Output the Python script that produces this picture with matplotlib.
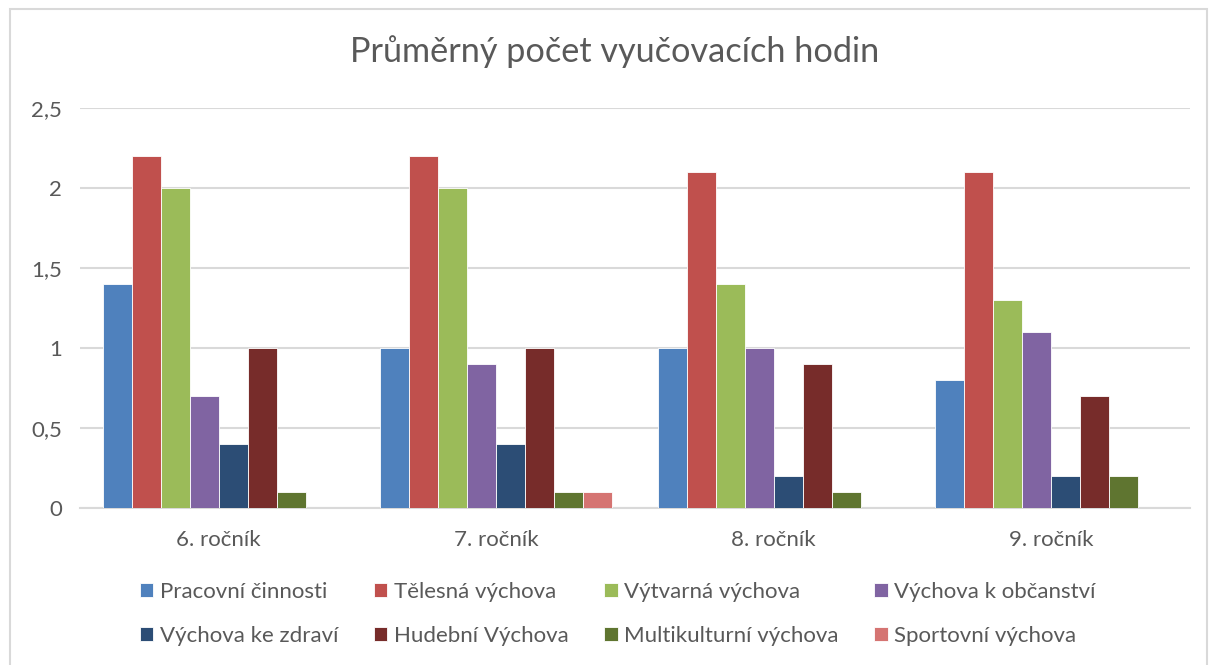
import matplotlib
matplotlib.use("Agg")
import matplotlib.pyplot as plt
import numpy as np
from matplotlib.patches import Rectangle

plt.rcParams["font.family"] = ["Lato", "DejaVu Sans"]

TEXT = "#595959"
GRID = "#D9D9D9"

categories = ["6. ročník", "7. ročník", "8. ročník", "9. ročník"]
series_names = [
    "Pracovní činnosti", "Tělesná výchova", "Výtvarná výchova",
    "Výchova k občanství", "Výchova ke zdraví", "Hudební Výchova",
    "Multikulturní výchova", "Sportovní výchova",
]
pracovni = [1.4, 1.0, 1.0, 0.8]
telesna = [2.2, 2.2, 2.1, 2.1]
vytvarna = [2.0, 2.0, 1.4, 1.3]
obcanstvi = [0.7, 0.9, 1.0, 1.1]
zdravi = [0.4, 0.4, 0.2, 0.2]
hudebni = [1.0, 1.0, 0.9, 0.7]
multikulturni = [0.1, 0.1, 0.1, 0.2]
sportovni = [0.0, 0.1, 0.0, 0.0]
series = [pracovni, telesna, vytvarna, obcanstvi, zdravi, hudebni,
          multikulturni, sportovni]
colors = ["#4F81BD", "#C0504D", "#9BBB59", "#8064A2",
          "#2C4D75", "#772C2A", "#5F7530", "#D57472"]

fig = plt.figure(figsize=(12.09, 6.65), dpi=100)
# light chart border
fig.patches.append(Rectangle((10 / 1209, -0.01), 1197 / 1209, 1 - 9 / 665 + 0.01,
                             transform=fig.transFigure, fill=False,
                             edgecolor=GRID, linewidth=1.5))
ax = fig.add_axes([80 / 1209, 1 - 508 / 665, 1110 / 1209, 400 / 665])

x = np.arange(len(categories))
w = 0.1045
n = len(series)
bars = []
for i, (vals, col, name) in enumerate(zip(series, colors, series_names)):
    b = ax.bar(x + (i - (n - 1) / 2) * w, vals, width=w, color=col,
               edgecolor="white", linewidth=0.6, label=name, zorder=3)
    bars.append(b)

ax.set_xlim(-0.5, len(categories) - 0.5)
ax.set_ylim(0, 2.5)
ax.set_yticks([0, 0.5, 1, 1.5, 2, 2.5])
ax.set_yticklabels(["0", "0,5", "1", "1,5", "2", "2,5"])
ax.set_xticks(x)
ax.set_xticklabels(categories)
ax.tick_params(length=0, labelsize=16, colors=TEXT)
ax.tick_params(axis="y", pad=13)
ax.tick_params(axis="x", pad=16)
ax.yaxis.grid(True, color=GRID, linewidth=1.5, zorder=0)
for s in ["top", "right", "left"]:
    ax.spines[s].set_visible(False)
ax.spines["bottom"].set_color(GRID)
ax.spines["bottom"].set_linewidth(1.5)

fig.text(615 / 1209, 1 - 52 / 665, "Průměrný počet vyučovacích hodin",
         ha="center", va="center", fontsize=24.7, color=TEXT)

# legend filled row by row, like the original
order = [0, 4, 1, 5, 2, 6, 3, 7]
leg = fig.legend([bars[k] for k in order], [series_names[k] for k in order],
                 loc="center", bbox_to_anchor=(618 / 1209, 1 - 614 / 665),
                 ncol=4, frameon=False, fontsize=16, handlelength=0.6,
                 handleheight=0.6, handletextpad=0.3, columnspacing=1.6,
                 labelspacing=1.1, labelcolor=TEXT)

fig.savefig("out.png", dpi=100)
